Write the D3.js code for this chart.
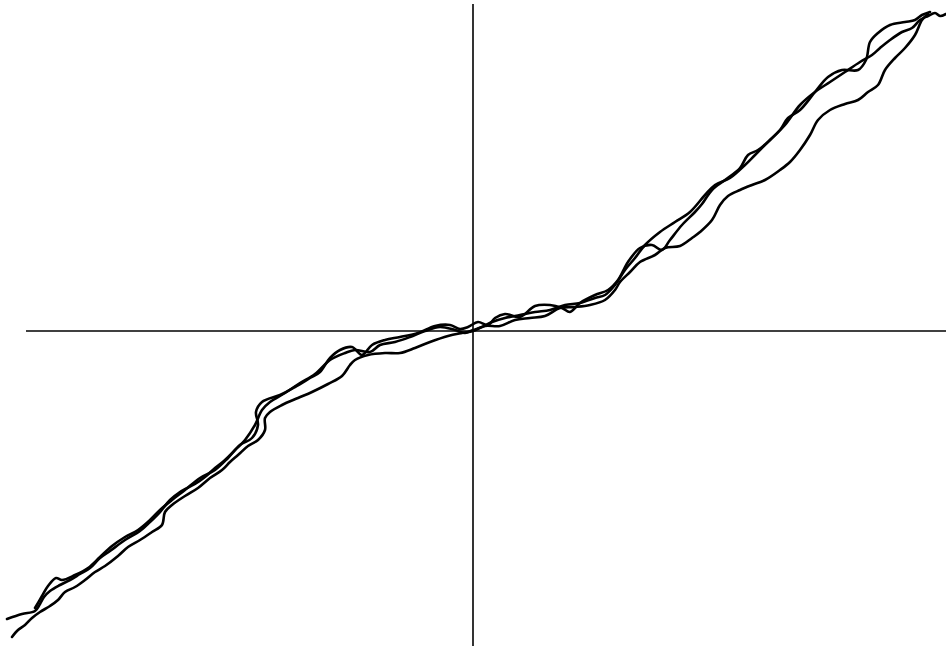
<!doctype html>
<html lang="en">
<head>
  <meta charset="utf-8">
  <script src="https://cdn.jsdelivr.net/npm/d3@7"></script>
  <title>Three noisy curves</title>
  <style>
    body { margin: 0; background: #fff; }
  </style>
</head>
<body>
  <svg id="chart" width="946" height="646"></svg>
  <script>
    // three runs, each as [x, y] pairs in data units
    var seriesA = [
      [-4.66,-2.88],[-4.51,-2.83],[-4.38,-2.80],[-4.33,-2.73],[-4.29,-2.66],[-4.23,-2.60],[-4.13,-2.54],
      [-4.03,-2.49],[-3.93,-2.43],[-3.83,-2.37],[-3.73,-2.27],[-3.63,-2.20],[-3.48,-2.09],[-3.33,-2.00],
      [-3.23,-1.91],[-3.13,-1.81],[-3.03,-1.69],[-2.93,-1.61],[-2.78,-1.53],[-2.68,-1.46],[-2.58,-1.37],
      [-2.48,-1.29],[-2.38,-1.19],[-2.28,-1.09],[-2.18,-0.94],[-2.11,-0.79],[-2.03,-0.71],[-1.88,-0.62],
      [-1.73,-0.52],[-1.58,-0.43],[-1.43,-0.29],[-1.28,-0.22],[-1.18,-0.19],[-1.03,-0.21],[-0.93,-0.14],
      [-0.78,-0.11],[-0.63,-0.06],[-0.48,0.00],[-0.33,0.04],[-0.18,0.01],[-0.08,-0.02],[0.00,0.01],
      [0.09,0.04],[0.19,0.09],[0.32,0.13],[0.47,0.16],[0.62,0.19],[0.77,0.21],[0.92,0.26],[1.07,0.28],
      [1.22,0.33],[1.32,0.36],[1.42,0.46],[1.52,0.61],[1.62,0.73],[1.72,0.86],[1.87,0.99],[2.02,1.09],
      [2.17,1.19],[2.32,1.36],[2.42,1.46],[2.57,1.53],[2.72,1.66],[2.82,1.76],[2.97,1.91],[3.12,2.06],
      [3.27,2.26],[3.42,2.39],[3.57,2.49],[3.72,2.59],[3.87,2.69],[3.99,2.76],[4.07,2.83],[4.17,2.91],
      [4.29,2.99],[4.39,3.03],[4.47,3.11],[4.55,3.15],[4.62,3.18],[4.67,3.15],[4.73,3.17]
    ];
    var seriesB = [
      [-4.61,-3.06],[-4.55,-2.99],[-4.48,-2.94],[-4.41,-2.87],[-4.33,-2.81],[-4.23,-2.75],[-4.15,-2.69],
      [-4.08,-2.61],[-3.98,-2.56],[-3.88,-2.49],[-3.78,-2.41],[-3.68,-2.35],[-3.55,-2.25],[-3.45,-2.16],
      [-3.33,-2.09],[-3.21,-2.01],[-3.11,-1.94],[-3.08,-1.81],[-3.01,-1.74],[-2.88,-1.65],[-2.75,-1.57],
      [-2.63,-1.47],[-2.51,-1.39],[-2.43,-1.31],[-2.35,-1.24],[-2.25,-1.15],[-2.15,-1.09],[-2.08,-0.99],
      [-2.08,-0.87],[-2.03,-0.81],[-1.91,-0.74],[-1.75,-0.67],[-1.61,-0.61],[-1.45,-0.53],[-1.31,-0.45],
      [-1.23,-0.34],[-1.18,-0.29],[-1.05,-0.24],[-0.88,-0.22],[-0.73,-0.22],[-0.58,-0.17],[-0.43,-0.11],
      [-0.25,-0.05],[-0.11,-0.02],[0.00,0.00],[0.12,0.05],[0.27,0.05],[0.42,0.11],[0.57,0.13],[0.72,0.15],
      [0.87,0.23],[1.02,0.24],[1.17,0.26],[1.32,0.31],[1.42,0.41],[1.47,0.49],[1.57,0.59],[1.67,0.69],
      [1.82,0.76],[1.92,0.83],[2.07,0.85],[2.19,0.93],[2.27,0.99],[2.39,1.11],[2.47,1.26],[2.55,1.35],
      [2.67,1.41],[2.79,1.46],[2.92,1.51],[3.07,1.61],[3.17,1.69],[3.27,1.81],[3.37,1.96],[3.45,2.11],
      [3.57,2.21],[3.72,2.27],[3.85,2.31],[3.95,2.39],[4.05,2.46],[4.12,2.61],[4.22,2.73],[4.32,2.83],
      [4.42,2.96],[4.49,3.11],[4.55,3.17]
    ];
    var seriesC = [
      [-4.38,-2.77],[-4.31,-2.65],[-4.25,-2.55],[-4.17,-2.47],[-4.11,-2.49],[-3.98,-2.44],[-3.85,-2.37],
      [-3.73,-2.26],[-3.61,-2.15],[-3.48,-2.06],[-3.35,-1.99],[-3.23,-1.89],[-3.13,-1.79],[-3.01,-1.69],
      [-2.88,-1.59],[-2.73,-1.47],[-2.58,-1.39],[-2.45,-1.27],[-2.33,-1.14],[-2.21,-1.07],[-2.15,-0.94],
      [-2.17,-0.81],[-2.11,-0.71],[-1.93,-0.64],[-1.78,-0.56],[-1.63,-0.47],[-1.53,-0.41],[-1.43,-0.27],
      [-1.33,-0.19],[-1.21,-0.16],[-1.11,-0.24],[-1.01,-0.14],[-0.88,-0.09],[-0.73,-0.06],[-0.55,-0.02],
      [-0.38,0.05],[-0.23,0.06],[-0.13,0.02],[-0.05,0.04],[0.05,0.09],[0.15,0.06],[0.22,0.13],[0.32,0.17],
      [0.47,0.14],[0.62,0.25],[0.77,0.26],[0.89,0.23],[0.97,0.19],[1.07,0.28],[1.22,0.36],[1.35,0.41],
      [1.45,0.51],[1.55,0.69],[1.67,0.83],[1.79,0.86],[1.89,0.81],[1.97,0.91],[2.09,1.06],[2.22,1.19],
      [2.29,1.27],[2.39,1.41],[2.52,1.51],[2.67,1.63],[2.75,1.76],[2.85,1.81],[2.97,1.91],[3.07,2.01],
      [3.15,2.13],[3.27,2.21],[3.42,2.39],[3.55,2.54],[3.69,2.61],[3.85,2.61],[3.93,2.71],[3.97,2.89],
      [4.05,2.98],[4.17,3.06],[4.32,3.09],[4.42,3.11],[4.49,3.16],[4.57,3.19]
    ];
    var allSeries = [seriesA, seriesB, seriesC];

    // axis extents (data units)
    var xAxisFrom = -4.47, xAxisTo = 4.73;
    var yAxisFrom = -3.15, yAxisTo = 3.27;

    var svg = d3.select("#chart");
    var x = d3.scaleLinear().domain([-4.73, 4.73]).range([0, 946]);
    var y = d3.scaleLinear().domain([-3.15, 3.15]).range([646, 16]);

    // crossing axes through the origin
    svg.append("line")
        .attr("x1", x(xAxisFrom)).attr("x2", x(xAxisTo))
        .attr("y1", y(0)).attr("y2", y(0))
        .attr("stroke", "#000").attr("stroke-width", 1.6);
    svg.append("line")
        .attr("x1", x(0)).attr("x2", x(0))
        .attr("y1", y(yAxisFrom)).attr("y2", y(yAxisTo))
        .attr("stroke", "#000").attr("stroke-width", 1.6);

    var line = d3.line()
        .x(function(d) { return x(d[0]); })
        .y(function(d) { return y(d[1]); })
        .curve(d3.curveCatmullRom);

    svg.append("g")
      .selectAll("path")
      .data(allSeries)
      .enter()
      .append("path")
        .attr("d", line)
        .attr("fill", "none")
        .attr("stroke", "#000")
        .attr("stroke-width", 2.6)
        .attr("stroke-linejoin", "round")
        .attr("stroke-linecap", "round");
  </script>
</body>
</html>
